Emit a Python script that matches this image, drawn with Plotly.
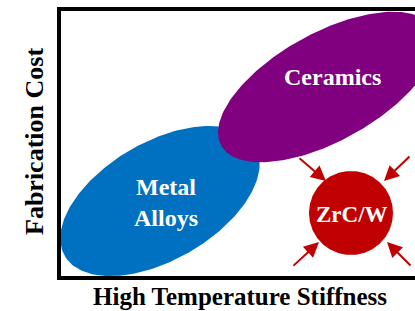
import numpy as np
import plotly.graph_objects as go

W, H = 415, 311

# Regions (conceptual diagram): name, center x, center y, semi-major, semi-minor, tilt (deg), colour
region_names = ["Metal<br>Alloys", "Ceramics"]
region_cx = [160, 327]
region_cy = [201, 87]
region_a = [110, 121]
region_b = [59, 54]
region_tilt = [30, 29]
region_colors = ["#0070c0", "#800080"]
region_label_x = [166, 332]
region_label_y = [202, 77]

# Highlight circle
circle_label = "ZrC/W"
circle_cx, circle_cy, circle_r = 351, 213, 42
circle_color = "#c00000"

# Arrows: tail -> head
arrow_tail_x = [298, 411, 292, 412]
arrow_tail_y = [157, 155, 267, 267]
arrow_head_x = [326, 384, 319, 387]
arrow_head_y = [181, 181, 242, 242]

x_title = "High Temperature Stiffness"
y_title = "Fabrication Cost"

fig = go.Figure()
t = np.linspace(0, 2 * np.pi, 240)
for name, cx, cy, a, b, th, col in zip(region_names, region_cx, region_cy, region_a, region_b, region_tilt, region_colors):
    r = np.deg2rad(th)
    xs = cx + a * np.cos(t) * np.cos(r) - b * np.sin(t) * np.sin(r)
    ys = cy - (a * np.cos(t) * np.sin(r) + b * np.sin(t) * np.cos(r))
    fig.add_trace(go.Scatter(x=xs, y=ys, mode="lines", fill="toself", fillcolor=col,
                             line=dict(color=col, width=0), hoverinfo="skip", showlegend=False))

xs = circle_cx + circle_r * np.cos(t)
ys = circle_cy + circle_r * np.sin(t)
fig.add_trace(go.Scatter(x=xs, y=ys, mode="lines", fill="toself", fillcolor=circle_color,
                         line=dict(color=circle_color, width=0), hoverinfo="skip", showlegend=False))

font_serif = "Liberation Serif, Times New Roman, serif"
ann = []
for name, lx, ly in zip(region_names, region_label_x, region_label_y):
    ann.append(dict(x=lx, y=ly, xref="x", yref="y", text="<b>%s</b>" % name, showarrow=False,
                    font=dict(family=font_serif, size=24, color="white"), align="center"))
ann.append(dict(x=circle_cx + 1, y=circle_cy + 1, xref="x", yref="y", text="<b>%s</b>" % circle_label,
                showarrow=False, font=dict(family=font_serif, size=23, color="white")))
for tx, ty, hx, hy in zip(arrow_tail_x, arrow_tail_y, arrow_head_x, arrow_head_y):
    ann.append(dict(x=hx, y=hy, xref="x", yref="y", ax=tx, ay=ty, axref="x", ayref="y",
                    text="", showarrow=True, arrowhead=2, arrowsize=1.5, arrowwidth=2,
                    arrowcolor=circle_color))
ann.append(dict(x=240, y=296, xref="x", yref="y", text="<b>%s</b>" % x_title, showarrow=False,
                font=dict(family=font_serif, size=25, color="black")))
ann.append(dict(x=34, y=142, xref="x", yref="y", text="<b>%s</b>" % y_title, showarrow=False,
                textangle=-90, font=dict(family=font_serif, size=26, color="black")))

fig.update_layout(
    width=W, height=H, margin=dict(l=0, r=0, t=0, b=0),
    paper_bgcolor="white", plot_bgcolor="white",
    xaxis=dict(range=[0, W], visible=False, fixedrange=True),
    yaxis=dict(range=[H, 0], visible=False, fixedrange=True),
    shapes=[dict(type="rect", xref="x", yref="y", x0=59, y0=9, x1=440, y1=278,
                 line=dict(color="black", width=4), layer="above")],
    annotations=ann,
)
fig.write_html("out.html", config={"displayModeBar": False},
               post_script="document.body.style.margin='0';document.body.style.overflow='hidden';")
